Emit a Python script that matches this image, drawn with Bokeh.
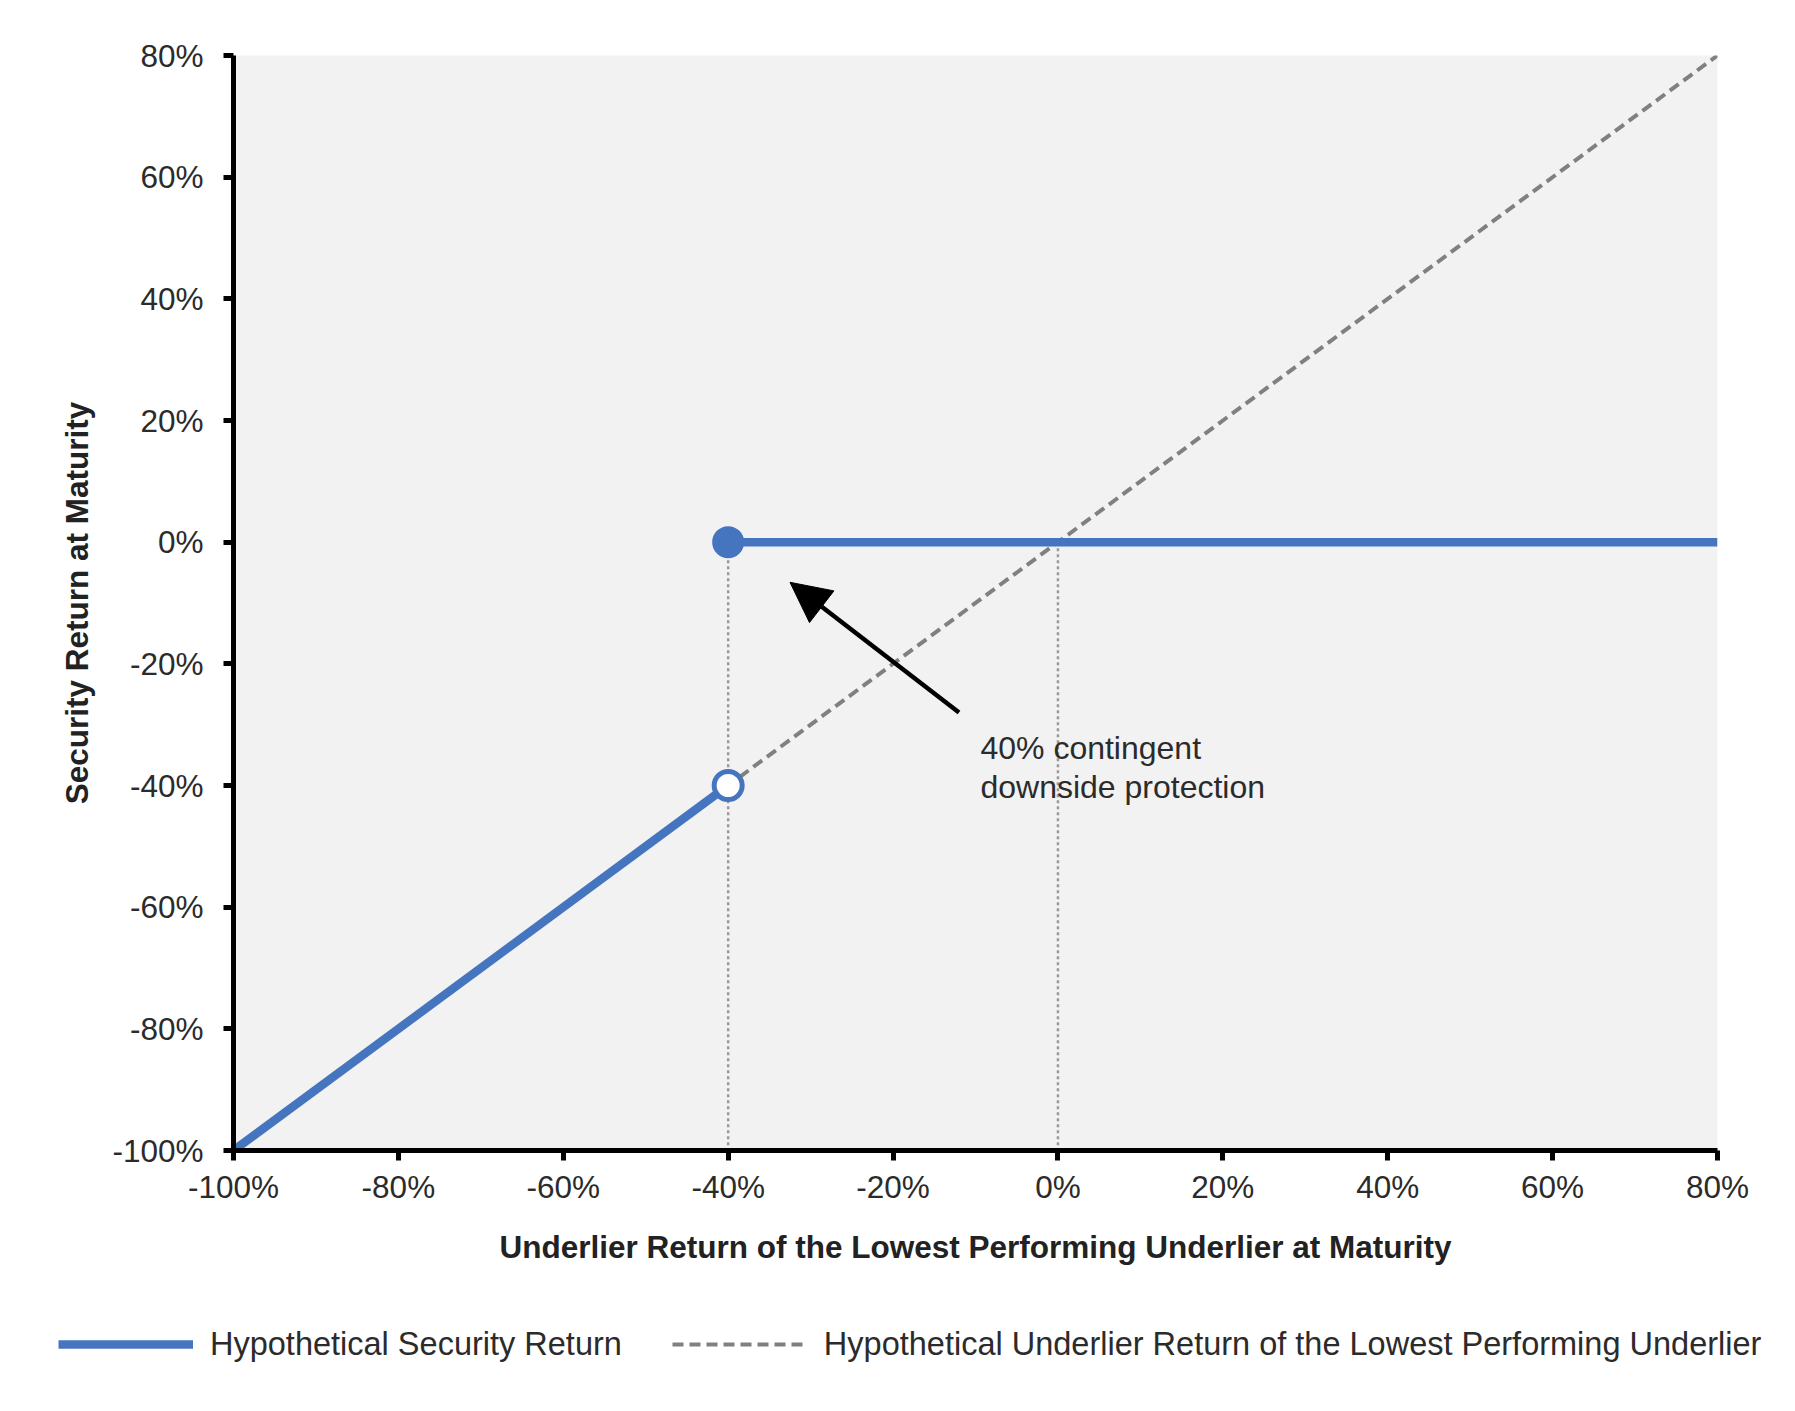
from bokeh.plotting import figure
from bokeh.layouts import column
from bokeh.models import (Range1d, FixedTicker, PrintfTickFormatter, Legend, LegendItem,
                          Arrow, NormalHead)
from bokeh.core.properties import value
from bokeh.embed import file_html
from bokeh.resources import INLINE

# ---- data (percent units) ----
x_ticks = [-100, -80, -60, -40, -20, 0, 20, 40, 60, 80]
y_ticks = [-100, -80, -60, -40, -20, 0, 20, 40, 60, 80]

barrier = -40
security_low_x = [-100, -40]
security_low_y = [-100, -40]
security_high_x = [-40, 80]
security_high_y = [0, 0]
underlier_x = [-100, 80]
underlier_y = [-100, 80]
guide_x = [-40, 0]
guide_top = [0, 0]
guide_bottom = [-100, -100]

arrow_start = (-12, -28)
arrow_end = (-32.5, -6.6)
note_lines = ["40% contingent", "downside protection"]
note_x = [-9.4, -9.4]
note_y = [-33.9, -40.3]

legend_labels = ["Hypothetical Security Return",
                 "Hypothetical Underlier Return of the Lowest Performing Underlier"]

BLUE = "#4675C0"
GRAY_DASH = "#808080"
FONT = "Liberation Sans"
TXT = "#2b2b2b"
W = 1775

p = figure(width=W, height=1290, output_backend="svg", toolbar_location=None,
           x_range=Range1d(-100, 80), y_range=Range1d(-100, 80),
           min_border_left=233, min_border_right=W - 233 - 1484,
           min_border_top=55, min_border_bottom=1290 - 55 - 1095)

p.background_fill_color = "#f2f2f2"
p.border_fill_color = "white"
p.outline_line_color = None
p.xgrid.visible = False
p.ygrid.visible = False

for ax in (p.xaxis[0], p.yaxis[0]):
    ax.ticker = FixedTicker(ticks=x_ticks)
    ax.formatter = PrintfTickFormatter(format="%d%%")
    ax.axis_line_width = 5
    ax.axis_line_color = "black"
    ax.major_tick_line_width = 5
    ax.major_tick_line_color = "black"
    ax.major_tick_out = 10
    ax.major_tick_in = 0
    ax.minor_tick_line_color = None
    ax.major_label_text_font = FONT
    ax.major_label_text_font_size = "31.5px"
    ax.major_label_text_color = TXT
    ax.axis_label_text_font = FONT
    ax.axis_label_text_font_size = "31.5px"
    ax.axis_label_text_font_style = "bold"
    ax.axis_label_text_color = "#222222"

p.yaxis[0].ticker = FixedTicker(ticks=y_ticks)
p.xaxis.axis_label = "Underlier Return of the Lowest Performing Underlier at Maturity"
p.yaxis.axis_label = "Security Return at Maturity"
p.xaxis.major_label_standoff = 8
p.xaxis.axis_label_standoff = 21
p.yaxis.major_label_standoff = 20
p.yaxis.axis_label_standoff = 14

# dotted guides
for gx, gt, gb in zip(guide_x, guide_top, guide_bottom):
    p.segment(x0=[gx], y0=[gt], x1=[gx], y1=[gb], line_color="#9a9a9a",
              line_width=2.5, line_dash="3 3")

# dashed underlier line
r_under = p.line(underlier_x, underlier_y, line_color=GRAY_DASH, line_width=4,
                 line_dash="11 6")

# security return
r_sec1 = p.line(security_low_x, security_low_y, line_color=BLUE, line_width=8.5)
r_sec2 = p.line(security_high_x, security_high_y, line_color=BLUE, line_width=8.5)
p.scatter([security_high_x[0]], [security_high_y[0]], size=30, fill_color=BLUE,
          line_color=BLUE, line_width=2)
p.scatter([security_low_x[1]], [security_low_y[1]], size=28, fill_color="white",
          line_color=BLUE, line_width=5)

# annotation
p.add_layout(Arrow(end=NormalHead(size=40, fill_color="black", line_color="black"),
                   x_start=arrow_start[0], y_start=arrow_start[1],
                   x_end=arrow_end[0], y_end=arrow_end[1],
                   line_width=4.5, line_color="black"))
p.text(x=note_x, y=note_y, text=note_lines, text_font=value(FONT),
       text_font_size="32px", text_color=TXT, text_baseline="middle", text_align="left")

# ---- legend strip (separate figure so nothing is clipped) ----
LH = 110
pl = figure(width=W, height=LH, output_backend="svg", toolbar_location=None,
            x_axis_location=None, y_axis_location=None,
            x_range=Range1d(-100, 80), y_range=Range1d(-100, 80),
            min_border=0, min_border_left=0, min_border_right=0,
            min_border_top=0, min_border_bottom=0)
if "frame_align" in pl.properties():
    pl.frame_align = False
    p.frame_align = False
pl.outline_line_color = None
pl.background_fill_color = "white"
pl.border_fill_color = "white"
pl.grid.visible = False
l_sec = pl.line(security_low_x, security_low_y, line_color=BLUE, line_width=8.5,
                visible=False)
l_under = pl.line(underlier_x, underlier_y, line_color=GRAY_DASH, line_width=4,
                  line_dash="11 6", visible=False)

legend = Legend(items=[LegendItem(label=legend_labels[0], renderers=[l_sec]),
                       LegendItem(label=legend_labels[1], renderers=[l_under])],
                orientation="horizontal", location=(58, LH - 54 - 20),
                glyph_width=135, glyph_height=40, label_height=40,
                label_standoff=17, spacing=50, padding=0, margin=0,
                border_line_color=None, background_fill_alpha=0,
                label_text_font=FONT, label_text_font_size="32.5px",
                label_text_color=TXT)
pl.add_layout(legend)

layout = column(p, pl, spacing=0)
open("out.html", "w").write(file_html(layout, INLINE))
